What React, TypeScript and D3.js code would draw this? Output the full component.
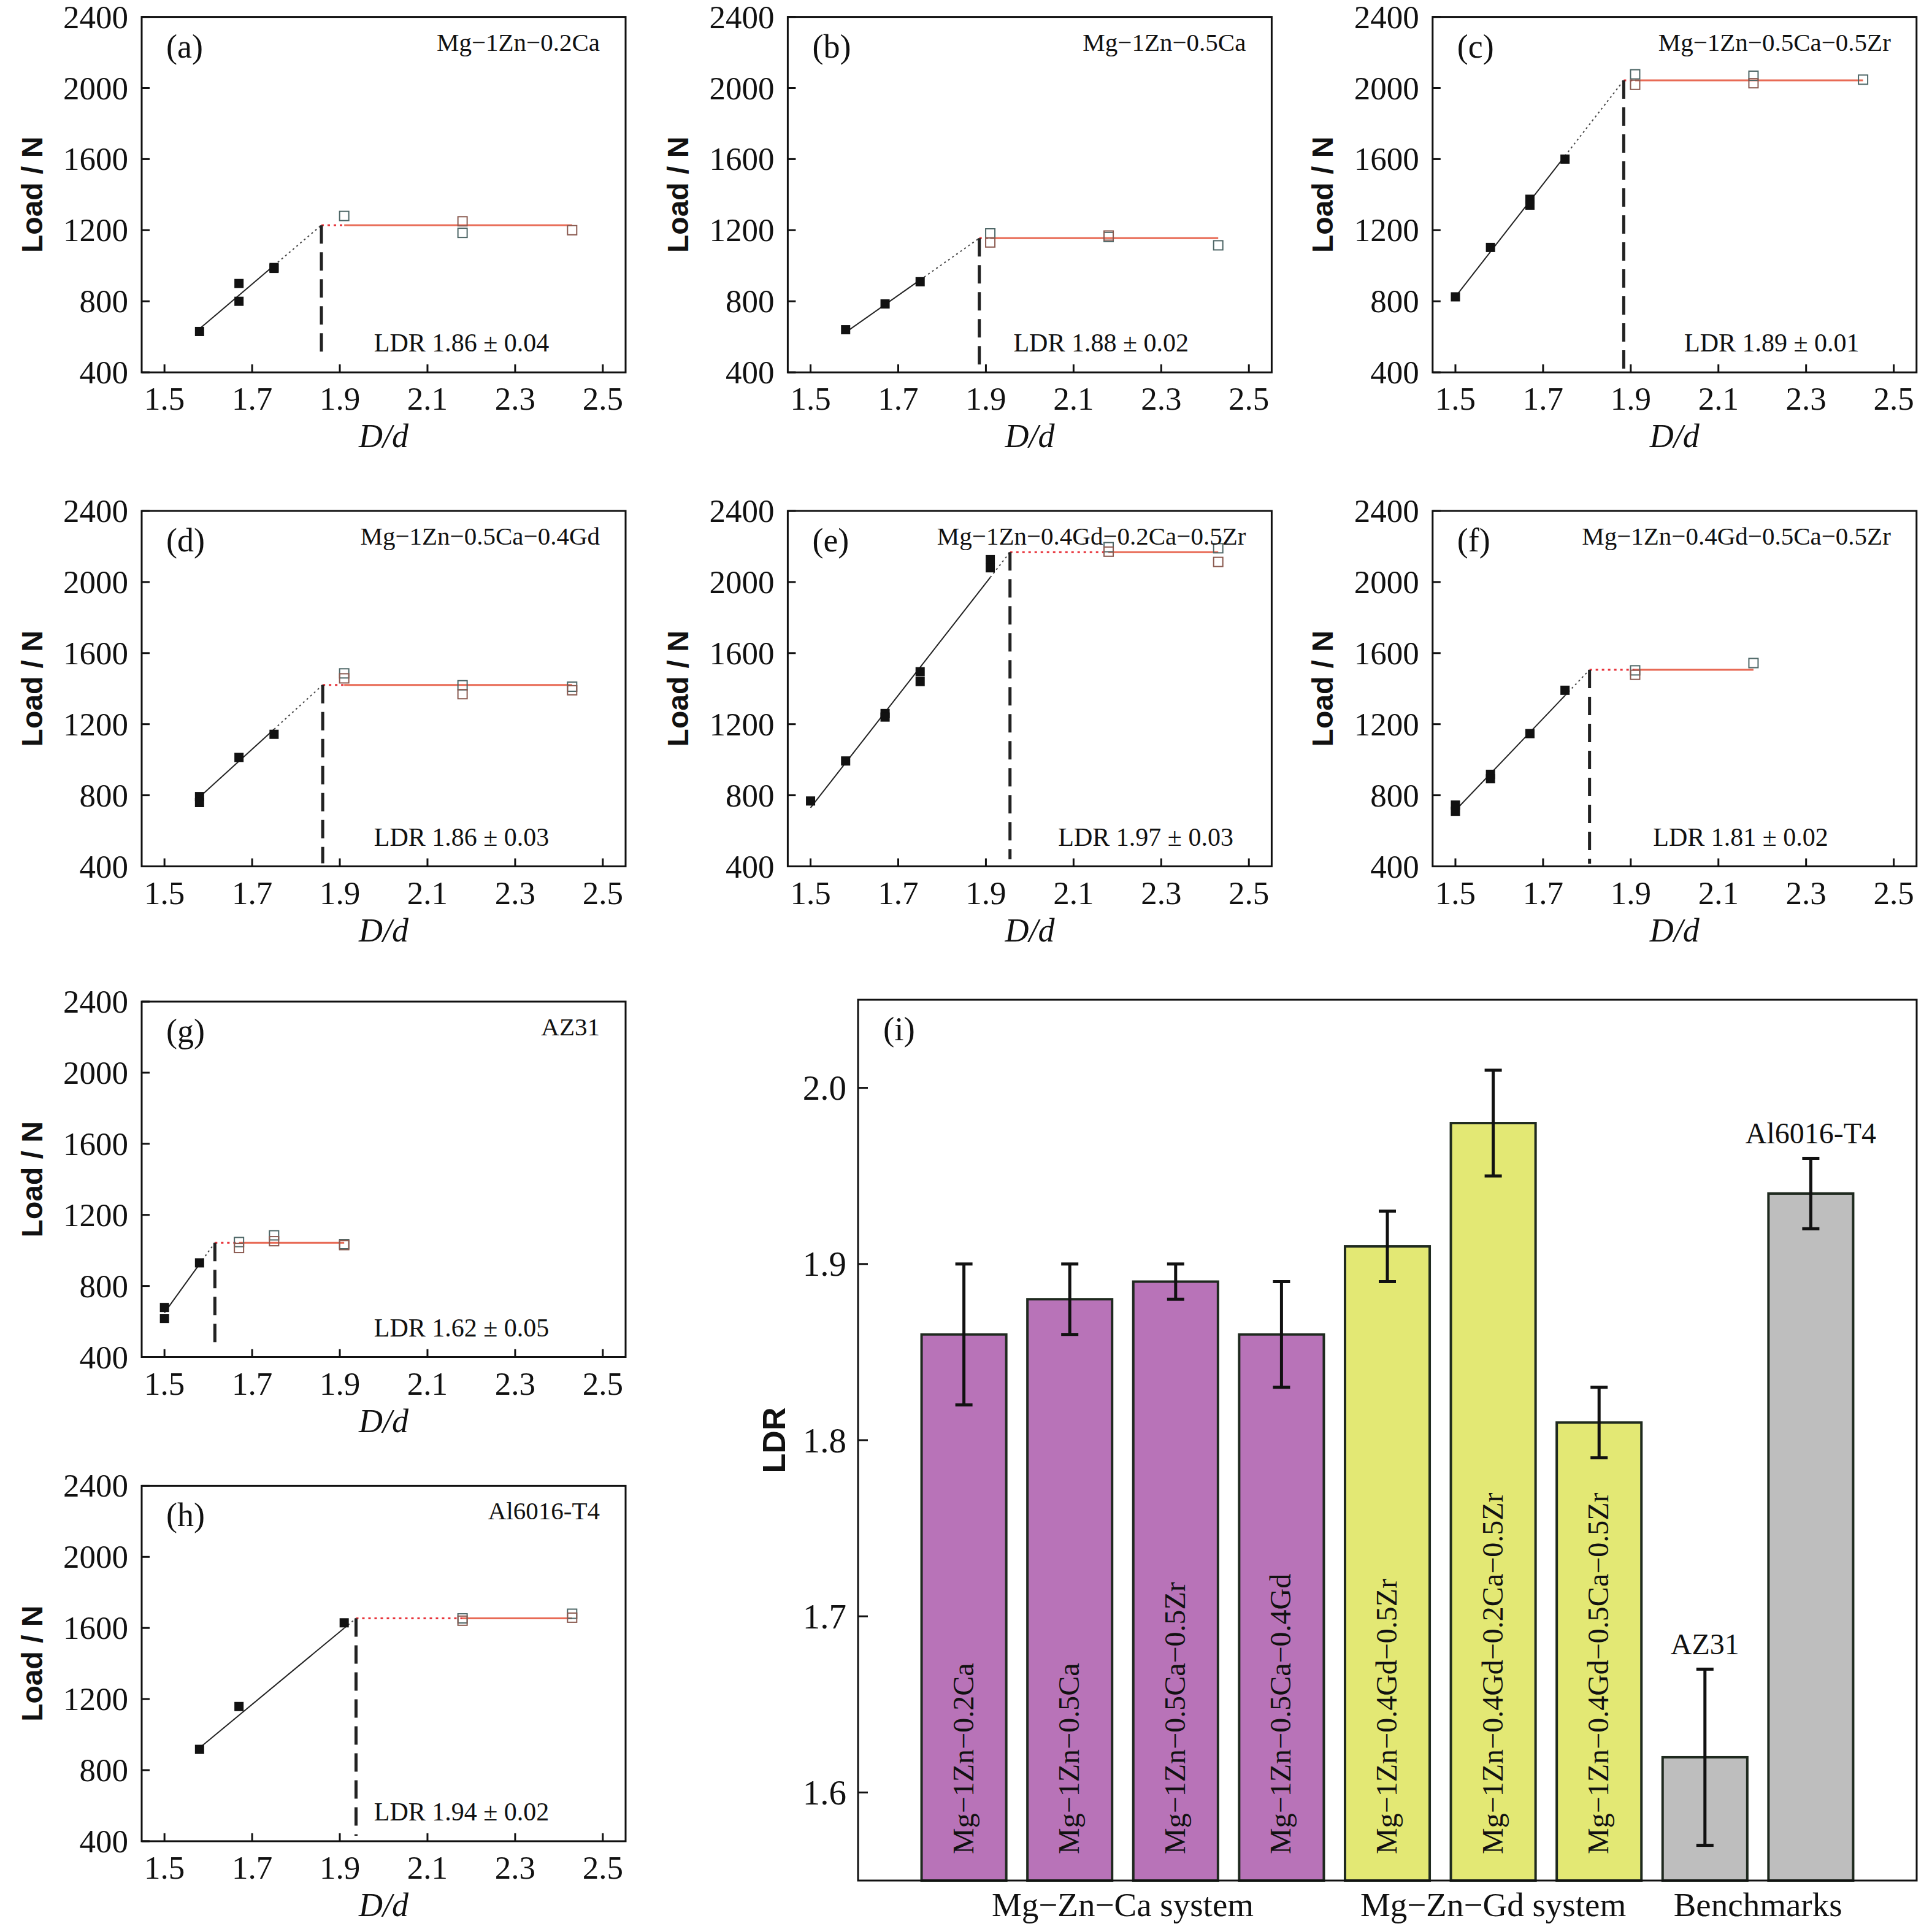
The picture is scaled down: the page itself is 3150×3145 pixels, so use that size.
import React from 'react';
import * as d3 from 'd3';

// ---- data ----
const ratioTicks = [1.5, 1.7, 1.9, 2.1, 2.3, 2.5];
const loadTicks = [400, 800, 1200, 1600, 2000, 2400];
const ldrTicks = [1.6, 1.7, 1.8, 1.9, 2.0];

type Pt = [number, number];

const panelIds = ['a', 'b', 'c', 'd', 'e', 'f', 'g', 'h'];
const panelTitles = [
    'Mg−1Zn−0.2Ca',
    'Mg−1Zn−0.5Ca',
    'Mg−1Zn−0.5Ca−0.5Zr',
    'Mg−1Zn−0.5Ca−0.4Gd',
    'Mg−1Zn−0.4Gd−0.2Ca−0.5Zr',
    'Mg−1Zn−0.4Gd−0.5Ca−0.5Zr',
    'AZ31',
    'Al6016-T4',
];
// filled squares: cups that drew successfully (D/d, load N)
const drawnPoints: Pt[][] = [
    [[1.58, 630], [1.67, 900], [1.67, 800], [1.75, 990], [1.75, 985]],
    [[1.58, 640], [1.67, 785], [1.75, 910]],
    [[1.5, 825], [1.58, 1103], [1.67, 1374], [1.67, 1341], [1.75, 1600]],
    [[1.58, 793], [1.58, 759], [1.67, 1013], [1.75, 1143]],
    [[1.5, 768], [1.58, 993], [1.67, 1260], [1.67, 1240], [1.75, 1495], [1.75, 1440], [1.91, 2126], [1.91, 2080]],
    [[1.5, 745], [1.5, 710], [1.58, 918], [1.58, 893], [1.67, 1147], [1.75, 1391]],
    [[1.5, 679], [1.5, 617], [1.58, 930]],
    [[1.58, 917], [1.67, 1158], [1.91, 1629]],
];
// open squares: failed cups
const failedPoints: Pt[][] = [
    [[1.91, 1280], [2.18, 1250], [2.18, 1185], [2.43, 1200]],
    [[1.91, 1182], [1.91, 1131], [2.18, 1162], [2.18, 1170], [2.43, 1115]],
    [[1.91, 2077], [1.91, 2018], [2.18, 2069], [2.18, 2027], [2.43, 2047]],
    [[1.91, 1486], [1.91, 1458], [2.18, 1419], [2.18, 1369], [2.43, 1411], [2.43, 1391]],
    [[2.18, 2196], [2.18, 2171], [2.43, 2190], [2.43, 2113]],
    [[1.91, 1503], [1.91, 1478], [2.18, 1544]],
    [[1.67, 1047], [1.67, 1014], [1.75, 1085], [1.75, 1052], [1.91, 1035], [1.91, 1030]],
    [[2.18, 1654], [2.18, 1641], [2.43, 1680], [2.43, 1658]],
];
const plateauLoad = [1228, 1155, 2043, 1421, 2168, 1506, 1043, 1654];
const fitStartLoad = [645, 625, 825, 790, 730, 715, 650, 925];
const ldrLineX = [1.858, 1.885, 1.884, 1.861, 1.955, 1.806, 1.615, 1.937];
const dashEndLoad = [500, 420, 407, 417, 440, 415, 460, 431];
const ldrText = ['1.86 ± 0.04', '1.88 ± 0.02', '1.89 ± 0.01', '1.86 ± 0.03', '1.97 ± 0.03', '1.81 ± 0.02', '1.62 ± 0.05', '1.94 ± 0.02'];
const ldrTextX = [1.978, 1.963, 2.022, 1.978, 2.065, 1.951, 1.978, 1.978];

// panel (i)
const alloys = [
    'Mg−1Zn−0.2Ca',
    'Mg−1Zn−0.5Ca',
    'Mg−1Zn−0.5Ca−0.5Zr',
    'Mg−1Zn−0.5Ca−0.4Gd',
    'Mg−1Zn−0.4Gd−0.5Zr',
    'Mg−1Zn−0.4Gd−0.2Ca−0.5Zr',
    'Mg−1Zn−0.4Gd−0.5Ca−0.5Zr',
    'AZ31',
    'Al6016-T4',
];
const ldrMean = [1.86, 1.88, 1.89, 1.86, 1.91, 1.98, 1.81, 1.62, 1.94];
const ldrErr = [0.04, 0.02, 0.01, 0.03, 0.02, 0.03, 0.02, 0.05, 0.02];
const alloyGroup = ['ca', 'ca', 'ca', 'ca', 'gd', 'gd', 'gd', 'bench', 'bench'];
const groupNames = ['Mg−Zn−Ca system', 'Mg−Zn−Gd system', 'Benchmarks'];
const groupAnchor = [1.5, 5, 7.5];

const serif = '"Liberation Serif", "Times New Roman", serif';
const sans = '"Liberation Sans", Arial, sans-serif';
const groupColor: Record<string, string> = { ca: '#B873B8', gd: '#E3E874', bench: '#BEBEBE' };

const PW = 789;
const PH = 579.5;
const cols = [231, 1284.4, 2335.8];
const rows = [27.6, 833, 1633, 2422.4];
const slots: [number, number][] = [[0, 0], [1, 0], [2, 0], [0, 1], [1, 1], [2, 1], [0, 2], [0, 3]];

const LoadPanel = ({ i }: { i: number }) => {
    const x0 = cols[slots[i][0]];
    const y0 = rows[slots[i][1]];
    const x = d3.scaleLinear().domain([1.448, 2.552]).range([x0, x0 + PW]);
    const y = d3.scaleLinear().domain([400, 2400]).range([y0 + PH, y0]);

    const filled = drawnPoints[i];
    const open = failedPoints[i];
    const ldrX = ldrLineX[i];
    const plat = plateauLoad[i];
    const fx0 = d3.min(filled, d => d[0]) as number;
    const fx1 = d3.max(filled, d => d[0]) as number;
    const fit = d3.scaleLinear().domain([fx0, ldrX]).range([fitStartLoad[i], plat]);
    const ox0 = d3.min(open, d => d[0]) as number;
    const ox1 = d3.max(open, d => d[0]) as number;
    const line = d3.line<Pt>().x(d => x(d[0])).y(d => y(d[1]));
    const s = 15;

    return (
        <g>
            {/* fit line */}
            <path d={line([[fx0, fit(fx0)], [fx1, fit(fx1)]]) || ''} stroke="#222" strokeWidth={2} fill="none" />
            <path d={line([[fx1, fit(fx1)], [ldrX, plat]]) || ''} stroke="#444" strokeWidth={2} strokeDasharray="3 5" fill="none" />
            {/* plateau */}
            <path d={line([[ldrX, plat], [ox0, plat]]) || ''} stroke="#e8333a" strokeWidth={3} strokeDasharray="4 6" fill="none" />
            <path d={line([[ox0, plat], [ox1, plat]]) || ''} stroke="#e86a55" strokeWidth={3} fill="none" />
            {/* LDR marker */}
            <line x1={x(ldrX)} x2={x(ldrX)} y1={y(plat)} y2={y(dashEndLoad[i])} stroke="#222" strokeWidth={5} strokeDasharray="30 14" />
            {filled.map((d, k) => (
                <rect key={'f' + k} x={x(d[0]) - s / 2} y={y(d[1]) - s / 2} width={s} height={s} fill="#111" />
            ))}
            {open.map((d, k) => (
                <rect key={'o' + k} x={x(d[0]) - s / 2} y={y(d[1]) - s / 2} width={s} height={s} fill="none" stroke={k % 2 ? '#8a5a50' : '#4d6666'} strokeWidth={2} />
            ))}
            {/* frame */}
            <rect x={x0} y={y0} width={PW} height={PH} fill="none" stroke="#111" strokeWidth={3} />
            {ratioTicks.map(t => (
                <g key={'x' + t}>
                    <line x1={x(t)} x2={x(t)} y1={y0 + PH} y2={y0 + PH - 13} stroke="#111" strokeWidth={3} />
                    <text x={x(t)} y={y0 + PH + 61} textAnchor="middle" fontFamily={serif} fontSize={53} fill="#111">{d3.format('.1f')(t)}</text>
                </g>
            ))}
            {loadTicks.map(t => (
                <g key={'y' + t}>
                    <line x1={x0} x2={x0 + 13} y1={y(t)} y2={y(t)} stroke="#111" strokeWidth={3} />
                    <text x={x0 - 22} y={y(t)} textAnchor="end" dominantBaseline="central" fontFamily={serif} fontSize={53} fill="#111">{t}</text>
                </g>
            ))}
            <text x={x0 + PW / 2} y={y0 + PH + 122} textAnchor="middle" fontFamily={serif} fontStyle="italic" fontSize={54} fill="#111">D/d</text>
            <text transform={`translate(${x0 - 179},${y0 + PH / 2}) rotate(-90)`} textAnchor="middle" dominantBaseline="central" fontFamily={sans} fontWeight="bold" fontSize={48} fill="#111">Load / N</text>
            <text x={x0 + 40} y={y0 + 66} fontFamily={serif} fontSize={54} fill="#111">({panelIds[i]})</text>
            <text x={x0 + PW - 42} y={y0 + 55} textAnchor="end" fontFamily={serif} fontSize={41} fill="#111">{panelTitles[i]}</text>
            <text x={x(ldrTextX[i])} y={y0 + PH - 34} fontFamily={serif} fontSize={42} fill="#111">LDR {ldrText[i]}</text>
        </g>
    );
};

const BarPanel = () => {
    const left = 1399, right = 3125, top = 1630, bottom = 3066;
    const x = d3.scaleBand().domain(alloys).range([left, right]).paddingInner(0.2).paddingOuter(0.6);
    const y = d3.scaleLinear().domain([1.55, 2.05]).range([bottom, top]);
    const bw = x.bandwidth();
    const center = (k: number) => (x(alloys[0]) as number) + k * x.step() + bw / 2;
    const cap = 14;

    return (
        <g>
            {alloys.map((a, k) => {
                const cx = (x(a) as number) + bw / 2;
                return (
                    <g key={a}>
                        <rect x={x(a)} y={y(ldrMean[k])} width={bw} height={bottom - y(ldrMean[k])} fill={groupColor[alloyGroup[k]]} stroke="#1f2a1f" strokeWidth={4} />
                        <line x1={cx} x2={cx} y1={y(ldrMean[k] + ldrErr[k])} y2={y(ldrMean[k] - ldrErr[k])} stroke="#111" strokeWidth={5} />
                        <line x1={cx - cap} x2={cx + cap} y1={y(ldrMean[k] + ldrErr[k])} y2={y(ldrMean[k] + ldrErr[k])} stroke="#111" strokeWidth={5} />
                        <line x1={cx - cap} x2={cx + cap} y1={y(ldrMean[k] - ldrErr[k])} y2={y(ldrMean[k] - ldrErr[k])} stroke="#111" strokeWidth={5} />
                        {alloyGroup[k] !== 'bench' ? (
                            <text transform={`translate(${cx + 15},${bottom - 43}) rotate(-90)`} fontFamily={serif} fontSize={48} fill="#111">{a}</text>
                        ) : (
                            <text x={cx} y={y(ldrMean[k] + ldrErr[k]) - 24} textAnchor="middle" fontFamily={serif} fontSize={48} fill="#111">{a}</text>
                        )}
                    </g>
                );
            })}
            <rect x={left} y={top} width={right - left} height={bottom - top} fill="none" stroke="#111" strokeWidth={3} />
            {ldrTicks.map(t => (
                <g key={t}>
                    <line x1={left} x2={left + 16} y1={y(t)} y2={y(t)} stroke="#111" strokeWidth={3} />
                    <text x={left - 19} y={y(t)} textAnchor="end" dominantBaseline="central" fontFamily={serif} fontSize={57} fill="#111">{d3.format('.1f')(t)}</text>
                </g>
            ))}
            <text transform={`translate(1262,${(top + bottom) / 2}) rotate(-90)`} textAnchor="middle" dominantBaseline="central" fontFamily={sans} fontWeight="bold" fontSize={52} fill="#111">LDR</text>
            <text x={left + 41} y={top + 66} fontFamily={serif} fontSize={55} fill="#111">(i)</text>
            {groupNames.map((g, k) => (
                <text key={g} x={center(groupAnchor[k])} y={3124} textAnchor="middle" fontFamily={serif} fontSize={55} fill="#111">{g}</text>
            ))}
        </g>
    );
};

export default function App() {
    return (
        <svg width={3150} height={3145} style={{ position: 'absolute', left: 0, top: 0, background: '#fff' }}>
            <rect width={3150} height={3145} fill="#fff" />
            {panelIds.map((_, i) => (
                <LoadPanel key={i} i={i} />
            ))}
            <BarPanel />
        </svg>
    );
}
